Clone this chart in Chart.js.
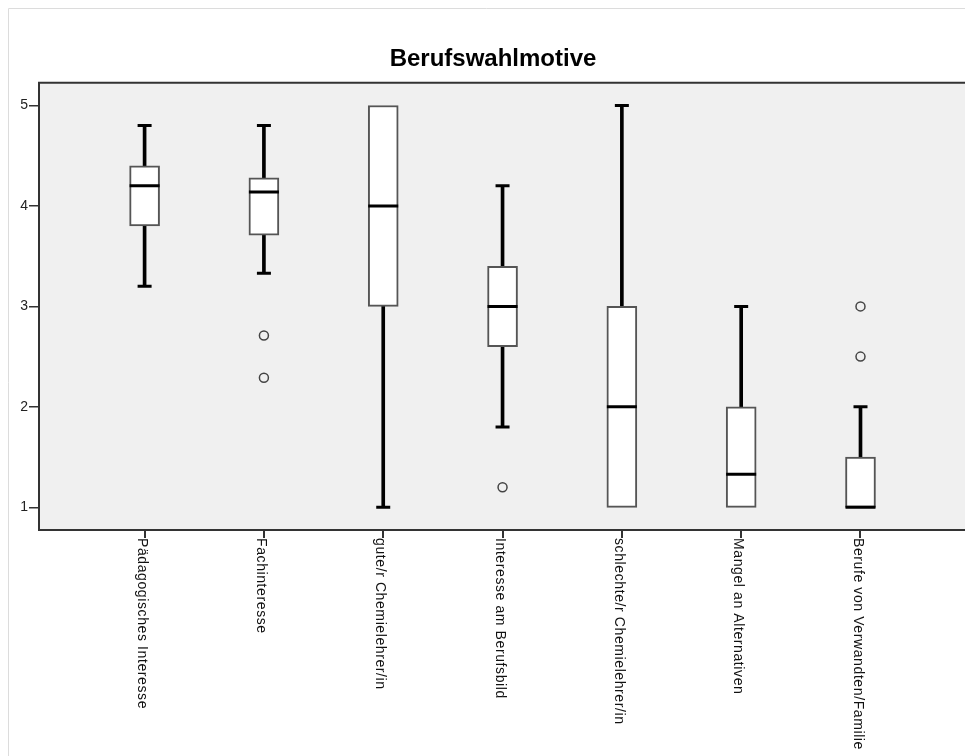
<!doctype html>
<html lang="de">
<head>
  <meta charset="utf-8">
  <title>Berufswahlmotive</title>
  <script src="https://cdn.jsdelivr.net/npm/chart.js"></script>
  <style>
    html, body { margin: 0; padding: 0; background: #fff; overflow: hidden; }
    #wrap { width: 965px; height: 756px; position: relative; }
  </style>
</head>
<body>
<div id="wrap"><canvas id="box-chart"></canvas></div>

<script>
// Boxplot values
var categories = ['Pädagogisches Interesse', 'Fachinteresse', 'gute/r Chemielehrer/in',
  'Interesse am Berufsbild', 'schlechte/r Chemielehrer/in', 'Mangel an Alternativen',
  'Berufe von Verwandten/Familie'];
var whiskerLow  = [3.2, 3.33, 1.0, 1.8, 1.0, 1.0, 1.0];
var q1          = [3.8, 3.71, 3.0, 2.6, 1.0, 1.0, 1.0];
var median      = [4.2, 4.14, 4.0, 3.0, 2.0, 1.33, 1.0];
var q3          = [4.4, 4.28, 5.0, 3.4, 3.0, 2.0, 1.5];
var whiskerHigh = [4.8, 4.8, 5.0, 4.2, 5.0, 3.0, 2.0];
var outliers    = [[], [2.71, 2.29], [], [1.2], [], [], [3.0, 2.5]];
var yTicks      = [1, 2, 3, 4, 5];

var font = '"Liberation Sans", Arial, sans-serif';

var upper = [], lower = [], boxes = [], medians = [], caps = [], outs = [];
for (var i = 0; i < categories.length; i++) {
  // no whisker and no cap where the whisker has zero length
  upper.push({x: i, y: whiskerHigh[i] > q3[i] ? [q3[i], whiskerHigh[i]] : null});
  lower.push({x: i, y: whiskerLow[i] < q1[i] ? [whiskerLow[i], q1[i]] : null});
  boxes.push({x: i, y: [q1[i], q3[i]]});
  medians.push({x: i, y: median[i]});
  if (whiskerHigh[i] > q3[i]) caps.push({x: i, y: whiskerHigh[i]});
  if (whiskerLow[i] < q1[i]) caps.push({x: i, y: whiskerLow[i]});
  for (var k = 0; k < outliers[i].length; k++) outs.push({x: i, y: outliers[i][k]});
}

// grey plot frame, outer output border
var framePlugin = {
  id: 'frame',
  beforeDraw: function(chart) {
    var ctx = chart.ctx, a = chart.chartArea, w = chart.width;
    ctx.save();
    ctx.strokeStyle = '#dcdcdc';
    ctx.lineWidth = 1;
    ctx.beginPath();
    ctx.moveTo(8.5, chart.height);
    ctx.lineTo(8.5, 8.5);
    ctx.lineTo(w, 8.5);
    ctx.stroke();
    ctx.fillStyle = '#f0f0f0';
    ctx.fillRect(a.left, a.top, w - a.left, a.bottom - a.top);
    ctx.restore();
  },
  afterDraw: function(chart) {
    var ctx = chart.ctx, a = chart.chartArea, w = chart.width;
    ctx.save();
    ctx.strokeStyle = '#333';
    ctx.lineWidth = 2;
    ctx.beginPath();
    ctx.moveTo(w, a.top);
    ctx.lineTo(a.left, a.top);
    ctx.lineTo(a.left, a.bottom);
    ctx.lineTo(w, a.bottom);
    ctx.stroke();

    // x labels rotated clockwise, reading downwards
    var xs = chart.scales.x;
    ctx.font = '14px ' + font;
    ctx.letterSpacing = '0.6px';
    ctx.fillStyle = '#111';
    ctx.textAlign = 'left';
    ctx.textBaseline = 'middle';
    for (var i = 0; i < categories.length; i++) {
      var px = xs.getPixelForValue(i);
      ctx.save();
      ctx.translate(px - 3, xs.top + 8);
      ctx.rotate(Math.PI / 2);
      ctx.fillText(categories[i], 0, 0);
      ctx.restore();
    }
    ctx.restore();
  }
};

new Chart(document.getElementById('box-chart'), {
  type: 'bar',
  data: {
    datasets: [
      { label: 'upper whisker', data: upper, backgroundColor: '#000', barThickness: 3, grouped: false, order: 3 },
      { label: 'lower whisker', data: lower, backgroundColor: '#000', barThickness: 3, grouped: false, order: 3 },
      { label: 'box', data: boxes, backgroundColor: '#fff', borderColor: '#555', borderWidth: 2,
        borderSkipped: false, barThickness: 30, grouped: false, order: 2 },
      { type: 'scatter', label: 'median', data: medians, pointStyle: 'line', radius: 15,
        borderWidth: 3, borderColor: '#000', order: 1 },
      { type: 'scatter', label: 'caps', data: caps, pointStyle: 'line', radius: 7,
        borderWidth: 3, borderColor: '#000', order: 1 },
      { type: 'scatter', label: 'outliers', data: outs, pointStyle: 'circle', radius: 4.5,
        borderWidth: 1.5, borderColor: '#444', backgroundColor: 'rgba(0,0,0,0)', order: 1 }
    ]
  },
  options: {
    responsive: true,
    maintainAspectRatio: false,
    animation: false,
    events: [],
    layout: { padding: { left: 0, right: 16, top: 0, bottom: 0 } },
    plugins: {
      legend: { display: false },
      tooltip: { enabled: false },
      title: {
        display: true,
        fullSize: false,
        text: 'Berufswahlmotive',
        color: '#000',
        font: { family: font, size: 24, weight: 'bold' },
        padding: { top: 45, bottom: 9 }
      }
    },
    scales: {
      x: {
        type: 'linear',
        min: -0.885,
        max: 6.725,
        offset: false,
        afterBuildTicks: function(scale) {
          scale.ticks = categories.map(function(c, i) { return {value: i}; });
        },
        afterFit: function(scale) { scale.height = 226; },
        ticks: { display: false },
        grid: { offset: false, drawOnChartArea: false, drawTicks: true, tickLength: 8, color: '#333', lineWidth: 2 },
        border: { display: false }
      },
      y: {
        type: 'linear',
        min: 0.774,
        max: 5.226,
        afterBuildTicks: function(scale) {
          scale.ticks = yTicks.map(function(v) { return {value: v}; });
        },
        afterFit: function(scale) { scale.width = 39; },
        ticks: { color: '#222', padding: 1, font: { family: font, size: 14 } },
        grid: { drawOnChartArea: false, drawTicks: true, tickLength: 10, color: '#333', lineWidth: 1.5 },
        border: { display: false }
      }
    }
  },
  plugins: [framePlugin]
});
</script>
</body>
</html>
